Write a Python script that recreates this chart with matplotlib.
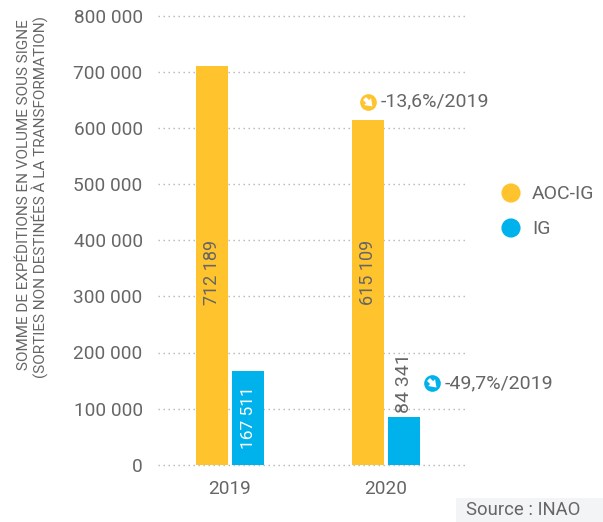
#!/usr/bin/python3
# -*- coding: utf-8 -*-

import matplotlib
matplotlib.use('Agg')
import matplotlib.pyplot as plt
import numpy as np

W, H = 603, 522

years = ['2019', '2020']
aoc_ig = [712189, 615109]
ig = [167511, 84341]
aoc_labels = ['712 189', '615 109']
ig_labels = ['167 511', '84 341']
yticks = [0, 100000, 200000, 300000, 400000, 500000, 600000, 700000, 800000]
ytick_labels = ['0', '100 000', '200 000', '300 000', '400 000', '500 000',
                '600 000', '700 000', '800 000']

YELLOW = '#fec32d'
BLUE = '#00b2eb'
GREY = '#666666'


def fx(x):
    return x / W


def fy(y):
    return 1 - y / H


def badge(overlay, x, y, color):
    overlay.scatter([x], [y], s=144, color=color, linewidths=0, zorder=3)
    overlay.annotate('', xy=(x + 4.5, y + 4.5), xytext=(x - 3.5, y - 3.5), zorder=4,
                     arrowprops=dict(arrowstyle='simple,head_width=0.7,head_length=0.5,tail_width=0.3',
                                     color='white', lw=0, shrinkA=0, shrinkB=0))


def main():
    plt.rcParams['font.family'] = ['Roboto', 'DejaVu Sans']

    fig = plt.figure(figsize=(W / 100, H / 100), dpi=100)
    ax = fig.add_axes([fx(158), fy(464.5), (468 - 158) / W, (464.5 - 16.5) / H])

    x = np.arange(len(years))
    ax.set_xlim(-0.46, 1.526)
    ax.set_ylim(0, 800000)

    ax.bar(x - 0.115, aoc_ig, width=0.205, color=YELLOW, zorder=2)
    ax.bar(x + 0.118, ig, width=0.205, color=BLUE, zorder=2)

    # both yellow labels start at the same height in the reference
    for i in range(len(years)):
        ax.text(x[i] - 0.115, 402000, aoc_labels[i], rotation=90, ha='center', va='top',
                fontsize=13, color=GREY, zorder=3)

    ax.text(x[0] + 0.118, ig[0] / 2, ig_labels[0], rotation=90, ha='center', va='center',
            fontsize=12.5, color='white', zorder=3)
    ax.text(x[1] + 0.118, ig[1] + 7000, ig_labels[1], rotation=90, ha='center', va='bottom',
            fontsize=14, color=GREY, zorder=3)

    ax.set_yticks(yticks)
    ax.set_yticklabels(ytick_labels)
    ax.set_xticks(x)
    ax.set_xticklabels(years)
    ax.tick_params(axis='both', length=0, labelsize=13.7, labelcolor=GREY)
    ax.tick_params(axis='y', pad=11)
    ax.tick_params(axis='x', pad=11)
    ax.grid(axis='y', color='#b5b5b5', linestyle=(0, (1, 2.6)), linewidth=1, zorder=1)
    for line in ax.get_ygridlines():
        line.set_clip_on(False)
    for spine in ax.spines.values():
        spine.set_visible(False)

    # overlay in reference pixels for the legend and the two badges
    overlay = fig.add_axes([0, 0, 1, 1], facecolor='none')
    overlay.set_xlim(0, W)
    overlay.set_ylim(H, 0)
    overlay.axis('off')

    overlay.scatter([511, 511], [193, 228], s=190, color=[YELLOW, BLUE], linewidths=0)
    overlay.text(532, 194, 'AOC-IG', fontsize=14, color=GREY, va='center')
    overlay.text(532, 229, 'IG', fontsize=14, color=GREY, va='center')

    badge(overlay, 368, 102, YELLOW)
    overlay.text(381, 101, '-13,6%/2019', fontsize=14, color=GREY, va='center')
    badge(overlay, 432, 383, BLUE)
    overlay.text(445, 383, '-49,7%/2019', fontsize=14, color=GREY, va='center')

    overlay.text(24, 195, 'SOMME DE EXPÉDITIONS EN VOLUME SOUS SIGNE', rotation=90, fontsize=11,
                 color=GREY, ha='center', va='center')
    overlay.text(40, 197, '(SORTIES NON DESTINÉES À LA TRANSFORMATION)', rotation=90, fontsize=11,
                 color=GREY, ha='center', va='center')

    overlay.fill_between([456, 603], 498, 522, color='#f3f4f5', linewidth=0)
    overlay.text(466, 510, 'Source : INAO', fontsize=13.3, color=GREY, va='center')

    plt.savefig('out.png', dpi=100)

    return 0


if __name__ == '__main__':
    main()
